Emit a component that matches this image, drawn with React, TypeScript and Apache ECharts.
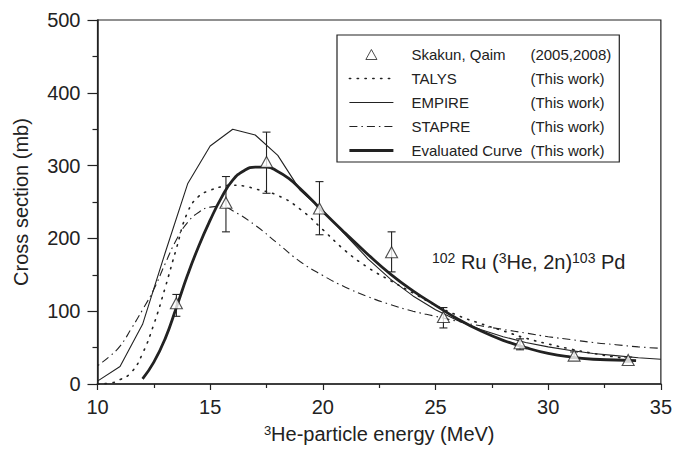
import React, { useEffect, useRef } from 'react';
import * as echarts from 'echarts';

// Experimental data: Skakun, Qaim (2005, 2008)
const expEnergy = [13.5, 15.7, 17.5, 19.85, 23.05, 25.35, 28.75, 31.15, 33.55];
const expSigma = [111, 249, 305, 241, 181, 92, 56, 39, 33];
const expLow = [93, 209, 262, 205, 154, 77, 47, 35, 30];
const expHigh = [123, 285, 346, 278, 209, 105, 62, 44, 37];

// TALYS (dotted)
const talysE = [10, 10.5, 11, 11.5, 12, 12.5, 13, 13.5, 14, 14.5, 15, 15.5, 16, 16.5, 17, 18, 19, 20, 21, 22, 23, 24, 25, 26, 27, 28, 29, 30, 31, 32, 33, 33.6];
const talysS = [0, 1, 6, 16, 42, 82, 132, 186, 236, 258, 266, 271, 273, 272, 268, 259, 240, 212, 183, 160, 142, 125, 108, 94, 83, 73, 63, 55, 48, 42, 37, 35];

// EMPIRE (thin solid polyline)
const empireE = [10, 11, 12, 13, 14, 15, 16, 17, 18, 19, 20, 21, 22, 23, 24, 25, 26, 27, 28, 29, 30, 31, 32, 33, 34, 35];
const empireS = [4, 24, 82, 180, 275, 327, 350, 342, 314, 266, 238, 205, 172, 144, 121, 102, 87, 75, 65, 57, 51, 46, 42, 39, 36, 34];

// STAPRE (dash-dot)
const stapreE = [9.6, 10, 10.5, 11, 11.5, 12, 12.5, 13, 13.5, 14, 14.5, 15, 15.5, 16, 17, 18, 19, 20, 21, 22, 23, 24, 25, 26, 27, 28, 29, 30, 31, 32, 33, 34, 35];
const stapreS = [15, 25, 37, 52, 76, 102, 130, 165, 198, 222, 236, 243, 244, 238, 218, 193, 168, 149, 133, 120, 109, 100, 93, 86, 80, 75, 70, 65, 61, 57, 54, 51, 49];

// Evaluated curve (thick solid)
const evalE = [12, 12.5, 13, 13.5, 14, 14.5, 15, 15.5, 16, 16.5, 17, 17.5, 18, 18.5, 19, 19.5, 20, 21, 22, 23, 24, 25, 26, 27, 28, 29, 30, 31, 32, 33, 33.9];
const evalS = [7, 30, 62, 105, 150, 190, 225, 256, 280, 293, 298, 298, 292, 282, 268, 253, 237, 207, 178, 151, 128, 108, 89, 73, 60, 50, 42, 37, 34, 33, 32];

const legendNames = ['Skakun, Qaim', 'TALYS', 'EMPIRE', 'STAPRE', 'Evaluated Curve'];
const legendNotes = ['(2005,2008)', '(This work)', '(This work)', '(This work)', '(This work)'];

const xTitle = '{s|3}He-particle energy (MeV)';
const yTitle = 'Cross section (mb)';
const reactionLabel = '{s|102}{n| Ru (}{s|3}{n|He, 2n)}{s|103}{n| Pd}';

const zip = (xs: number[], ys: number[]) => xs.map((x, i) => [x, ys[i]]);

export default function App() {
  const ref = useRef<HTMLDivElement>(null);

  useEffect(() => {
    document.body.style.margin = '0';
    const chart = echarts.init(ref.current!, null, { renderer: 'svg' });
    const font = '"Liberation Sans", Arial, sans-serif';
    const ink = '#222';

    const styles: Record<string, any> = {
      'STAPRE': { color: ink, width: 1.1, type: [8, 4, 1.5, 4] },
      'TALYS': { color: ink, width: 1.6, type: [1.3, 6.5], cap: 'round' },
      'EMPIRE': { color: ink, width: 1.1 },
      'Evaluated Curve': { color: ink, width: 2.8 },
    };

    const legendData = legendNames.map((n) =>
      n === 'Skakun, Qaim'
        ? { name: n, icon: 'path://M5,0 L10,9 L0,9 Z', itemStyle: { color: '#fff', borderColor: ink, borderWidth: 1 } }
        : { name: n, itemStyle: { opacity: 0 }, lineStyle: { ...styles[n] } }
    );

    chart.setOption({
      animation: false,
      backgroundColor: '#fff',
      grid: {
        left: 97.5, right: 11, top: 20, bottom: 71,
        show: true, borderColor: ink, borderWidth: 1.2, backgroundColor: 'transparent',
      },
      xAxis: {
        type: 'value', min: 10, max: 35, interval: 5,
        name: xTitle, nameLocation: 'middle', nameGap: 40,
        nameTextStyle: {
          color: ink, fontFamily: font, fontSize: 20,
          rich: { s: { fontSize: 13, verticalAlign: 'top', fontFamily: font, color: ink } },
        },
        axisLine: { lineStyle: { color: ink, width: 1.5 } },
        axisTick: { length: 6, lineStyle: { color: ink, width: 1.2 } },
        minorTick: { show: true, splitNumber: 2, length: 4, lineStyle: { color: ink, width: 1.2 } },
        splitLine: { show: false },
        axisLabel: { margin: 13, fontSize: 20, color: ink, fontFamily: font },
      },
      yAxis: {
        type: 'value', min: 0, max: 500, interval: 100,
        name: yTitle, nameLocation: 'middle', nameGap: 67,
        nameTextStyle: { color: ink, fontFamily: font, fontSize: 20 },
        axisLine: { lineStyle: { color: ink, width: 1.5 } },
        axisTick: { length: 10, lineStyle: { color: ink, width: 1.2 } },
        minorTick: { show: true, splitNumber: 2, length: 5, lineStyle: { color: ink, width: 1.2 } },
        splitLine: { show: false },
        axisLabel: { margin: 17, fontSize: 20, color: ink, fontFamily: font },
      },
      legend: {
        orient: 'vertical', left: 337, top: 35,
        padding: [12, 8, 4, 11],
        borderColor: ink, borderWidth: 1.2, backgroundColor: '#fff',
        itemWidth: 44, itemHeight: 10, itemGap: 9,
        symbolKeepAspect: true,
        data: legendData,
        formatter: (name: string) => {
          const i = legendNames.indexOf(name);
          return `{a|${name}}{b|${legendNotes[i]}}`;
        },
        textStyle: {
          fontFamily: font, fontSize: 15, color: ink, lineHeight: 15,
          rich: {
            a: { width: 119, padding: [0, 0, 0, 13], fontFamily: font, fontSize: 15, color: ink, lineHeight: 15 },
            b: { fontFamily: font, fontSize: 15, color: ink, lineHeight: 15 },
          },
        },
      },
      graphic: [
        {
          type: 'text', left: 432, top: 251, z: 10,
          style: {
            text: reactionLabel,
            fill: ink, fontFamily: font, fontSize: 20,
            rich: {
              n: { fontSize: 20, fontFamily: font, fill: ink, lineHeight: 22, verticalAlign: 'middle' },
              s: { fontSize: 14, fontFamily: font, fill: ink, lineHeight: 14, verticalAlign: 'top' },
            },
          },
        },
      ],
      series: [
        {
          name: 'STAPRE', type: 'line', data: zip(stapreE, stapreS), smooth: true, clip: false,
          symbol: 'none', lineStyle: styles['STAPRE'], itemStyle: { color: ink }, z: 2,
        },
        {
          name: 'TALYS', type: 'line', data: zip(talysE, talysS), smooth: true,
          symbol: 'none', lineStyle: styles['TALYS'], itemStyle: { color: ink }, z: 2,
        },
        {
          name: 'EMPIRE', type: 'line', data: zip(empireE, empireS), smooth: false,
          symbol: 'none', lineStyle: styles['EMPIRE'], itemStyle: { color: ink }, z: 2,
        },
        {
          name: 'Evaluated Curve', type: 'line', data: zip(evalE, evalS), smooth: true,
          symbol: 'none', lineStyle: styles['Evaluated Curve'], itemStyle: { color: ink }, z: 3,
        },
        {
          type: 'custom', name: 'errors', z: 4,
          data: expEnergy.map((e, i) => [e, expLow[i], expHigh[i]]),
          encode: { x: 0, y: [1, 2] },
          renderItem: (params: any, api: any) => {
            const x = api.value(0);
            const lo = api.coord([x, api.value(1)]);
            const hi = api.coord([x, api.value(2)]);
            const w = 4;
            const st = { stroke: ink, lineWidth: 1.1 };
            return {
              type: 'group',
              children: [
                { type: 'line', shape: { x1: lo[0], y1: lo[1], x2: hi[0], y2: hi[1] }, style: st },
                { type: 'line', shape: { x1: lo[0] - w, y1: lo[1], x2: lo[0] + w, y2: lo[1] }, style: st },
                { type: 'line', shape: { x1: hi[0] - w, y1: hi[1], x2: hi[0] + w, y2: hi[1] }, style: st },
              ],
            };
          },
        },
        {
          name: 'Skakun, Qaim', type: 'scatter', data: zip(expEnergy, expSigma), z: 5,
          symbol: 'triangle', symbolSize: [12, 11],
          itemStyle: { color: '#fff', borderColor: ink, borderWidth: 1.1 },
        },
      ],
    });

    return () => chart.dispose();
  }, []);

  return <div ref={ref} style={{ width: 675, height: 455 }} />;
}
